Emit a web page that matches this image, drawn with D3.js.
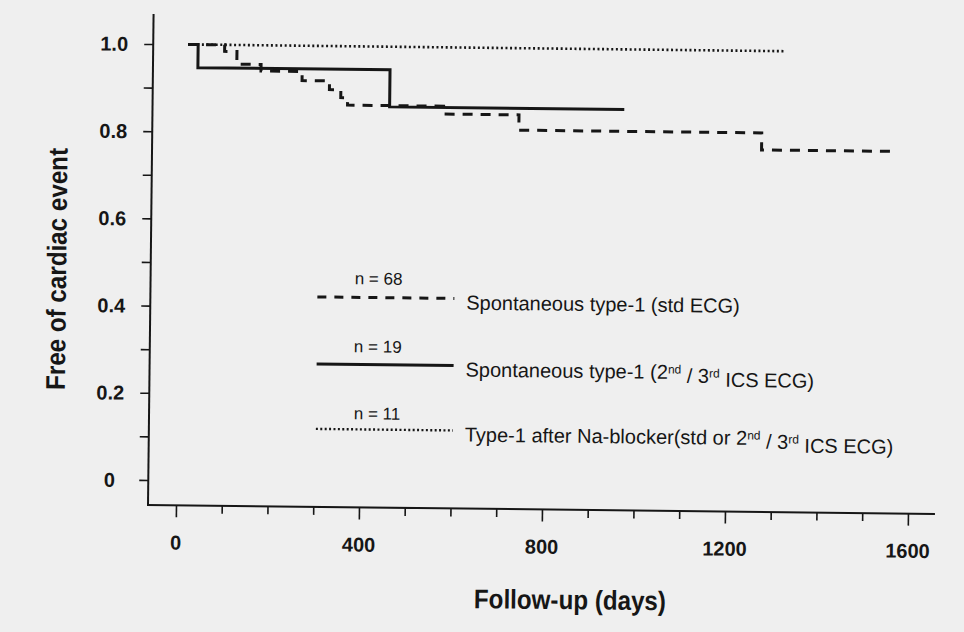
<!DOCTYPE html>
<html><head><meta charset="utf-8">
<script src="https://cdn.jsdelivr.net/npm/d3@7"></script>
<style>
html,body{margin:0;padding:0;background:#efefef;}
svg{display:block;}
</style></head>
<body>
<script>
// ---- data ----
const xTickValues = [0, 400, 800, 1200, 1600];
const yTickValues = [0, 0.2, 0.4, 0.6, 0.8, 1.0];
const yTickLabels = ["0", "0.2", "0.4", "0.6", "0.8", "1.0"];

const stdDays = [15, 95, 122, 175, 265, 325, 350, 365, 575, 740, 1271, 1567];
const stdSurv = [1.0, 0.985, 0.956, 0.941, 0.92, 0.90, 0.882, 0.865, 0.847, 0.812, 0.773, 0.773];

const icsDays = [15, 37, 457, 970];
const icsSurv = [1.0, 0.947, 0.862, 0.862];

const naDays = [15, 1320];
const naSurv = [1.0, 1.0];

const legendN = ["n = 68", "n = 19", "n = 11"];

// ---- drawing ----
const W = 964, H = 632;
const svg = d3.select("body").append("svg").attr("width", W).attr("height", H);
const ink = "#161616";
const g = svg.append("g").attr("transform", "rotate(0.65,148,505)");

const x = d3.scaleLinear().domain([0, 1600]).range([176, 908]);
const y = d3.scaleLinear().domain([0, 1]).range([480, 44]);

// axes lines
g.append("line").attr("x1", 148).attr("x2", 148).attr("y1", 14).attr("y2", 505)
  .attr("stroke", ink).attr("stroke-width", 2);
g.append("line").attr("x1", 147).attr("x2", 935).attr("y1", 505).attr("y2", 505)
  .attr("stroke", ink).attr("stroke-width", 2);

// y ticks
const ya = g.append("g").attr("transform", "translate(148,0)")
  .call(d3.axisLeft(y).tickValues(d3.range(0, 1.01, 0.1)).tickSize(9).tickFormat(""));
ya.select(".domain").remove();
ya.selectAll("line").attr("stroke", ink).attr("stroke-width", 1.6);
g.selectAll(".ylab").data(yTickValues).enter().append("text")
  .attr("x", 109).attr("y", d => y(d)).attr("dy", "0.36em")
  .attr("text-anchor", "middle")
  .style("font-family", "'Liberation Sans', Arial, sans-serif")
  .style("font-weight", "bold").style("font-size", "20px").attr("fill", ink)
  .text((d, i) => yTickLabels[i]);

// x ticks
const xa = g.append("g").attr("transform", "translate(0,505)")
  .call(d3.axisBottom(x).tickValues(d3.range(0, 1601, 100)).tickSize(9).tickFormat(""));
xa.select(".domain").remove();
xa.selectAll("line").attr("stroke", ink).attr("stroke-width", 1.6)
  .attr("y2", d => (d % 400 === 0 ? 12 : 8));
g.selectAll(".xlab").data(xTickValues).enter().append("text")
  .attr("x", d => x(d)).attr("y", 542).attr("dy", "0.36em")
  .attr("text-anchor", "middle")
  .style("font-family", "'Liberation Sans', Arial, sans-serif")
  .style("font-weight", "bold").style("font-size", "20px").attr("fill", ink)
  .text(d => d);

// axis titles
g.append("text").attr("transform", "translate(54,270) rotate(-90)")
  .attr("text-anchor", "middle").attr("dy", "0.35em")
  .attr("textLength", 242).attr("lengthAdjust", "spacingAndGlyphs")
  .style("font-family", "'Liberation Sans', Arial, sans-serif")
  .style("font-weight", "bold").style("font-size", "27px").attr("fill", ink)
  .text("Free of cardiac event");
g.append("text").attr("x", 571).attr("y", 595).attr("text-anchor", "middle").attr("dy", "0.35em")
  .attr("textLength", 192).attr("lengthAdjust", "spacingAndGlyphs")
  .style("font-family", "'Liberation Sans', Arial, sans-serif")
  .style("font-weight", "bold").style("font-size", "27px").attr("fill", ink)
  .text("Follow-up (days)");

// curves
const line = d3.line().x(d => x(d[0])).y(d => y(d[1])).curve(d3.curveStepAfter);
const series = [
  {days: naDays, surv: naSurv, dash: "2,2.6", w: 2.6},
  {days: icsDays, surv: icsSurv, dash: null, w: 3},
  {days: stdDays, surv: stdSurv, dash: "10,8", w: 3}
];
series.forEach(s => {
  const pts = s.days.map((d, i) => [d, s.surv[i]]);
  g.append("path").attr("d", line(pts)).attr("fill", "none")
    .attr("stroke", ink).attr("stroke-width", s.w)
    .attr("stroke-dasharray", s.dash);
});

// legend
const legFont = "'Liberation Sans', Arial, sans-serif";
const legRows = [
  {ny: 276, ly: 295, dash: "9,8", w: 3, parts: [["Spontaneous type-1 (std ECG)", false]]},
  {ny: 344, ly: 362, dash: null, w: 3, parts: [["Spontaneous type-1 (2", false], ["nd", true], [" / 3", false], ["rd", true], [" ICS ECG)", false]]},
  {ny: 411, ly: 427, dash: "2,2.4", w: 2.4, parts: [["Type-1 after Na-blocker(std or 2", false], ["nd", true], [" / 3", false], ["rd", true], [" ICS ECG)", false]]}
];
legRows.forEach((r, i) => {
  g.append("text").attr("x", 376).attr("y", r.ny).attr("dy", "0.35em").attr("text-anchor", "middle")
    .style("font-family", legFont).style("font-size", "17px").attr("fill", ink).text(legendN[i]);
  g.append("line").attr("x1", 315).attr("x2", 452).attr("y1", r.ly).attr("y2", r.ly)
    .attr("stroke", ink).attr("stroke-width", r.w).attr("stroke-dasharray", r.dash);
  const t = g.append("text").attr("x", 464).attr("y", r.ly + 4).attr("dy", "0.35em")
    .style("font-family", legFont).style("font-size", "20px").attr("fill", ink);
  r.parts.forEach(p => {
    if (p[1]) {
      t.append("tspan").attr("dy", "-0.45em").style("font-size", "12px").text(p[0]);
    } else {
      const ts = t.append("tspan").text(p[0]);
      if (t.selectAll("tspan").size() > 1) ts.attr("dy", "0.45em");
    }
  });
});
</script>
</body></html>
